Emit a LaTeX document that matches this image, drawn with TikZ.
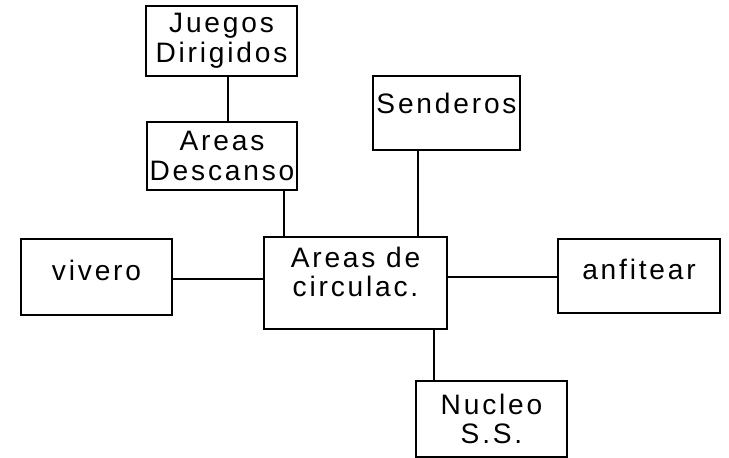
\documentclass[tikz,border=0pt]{standalone}
\usepackage{fontspec}
\setmainfont{Liberation Sans}[LetterSpace=10]
\usetikzlibrary{calc}
\tikzset{
  box/.style={draw, line width=1.7pt, align=center, inner sep=0pt,
    font=\fontsize{20}{21}\selectfont},
  link/.style={line width=1.7pt}
}
\begin{document}
\begin{tikzpicture}[x=0.025cm,y=-0.025cm]
\useasboundingbox (0,0) rectangle (729,458);
\node[box, minimum width=3.775cm, minimum height=1.75cm] (juegos) at (221.5,41) {Juegos\\Dirigidos};
\node[box, minimum width=3.75cm, minimum height=1.7cm] (descanso) at (222,156) {Areas\\Descanso};
\node[box, minimum width=3.675cm, minimum height=1.85cm, text depth=14pt] (senderos) at (446.5,113) {Senderos};
\node[box, minimum width=3.775cm, minimum height=1.9cm, text depth=10pt] (vivero) at (96.5,277) {vivero};
\node[box, minimum width=4.575cm, minimum height=2.3cm, text depth=16pt] (circ) at (355.5,283) {Areas de\\circulac.};
\node[box, minimum width=4.05cm, minimum height=1.85cm, text depth=9pt] (anfi) at (639,276) {anfitear};
\node[box, minimum width=3.775cm, minimum height=1.9cm] (nucleo) at (491.5,419) {Nucleo\\S.S.};
% connectors
\draw[link] ($(juegos.south)+(6.5,0)$) coordinate (j1) -- (j1 |- descanso.north);
\draw[link] ($(descanso.south)+(62,0)$) coordinate (d1) -- (d1 |- circ.north);
\draw[link] ($(senderos.south)+(-28.5,0)$) coordinate (s1) -- (s1 |- circ.north);
\draw[link] ($(vivero.east)+(0,2)$) coordinate (v1) -- (v1 -| circ.west);
\draw[link] ($(anfi.west)+(0,1)$) coordinate (a1) -- (a1 -| circ.east);
\draw[link] ($(nucleo.north)+(-57.5,0)$) coordinate (n1) -- (n1 |- circ.south);
\end{tikzpicture}
\end{document}
